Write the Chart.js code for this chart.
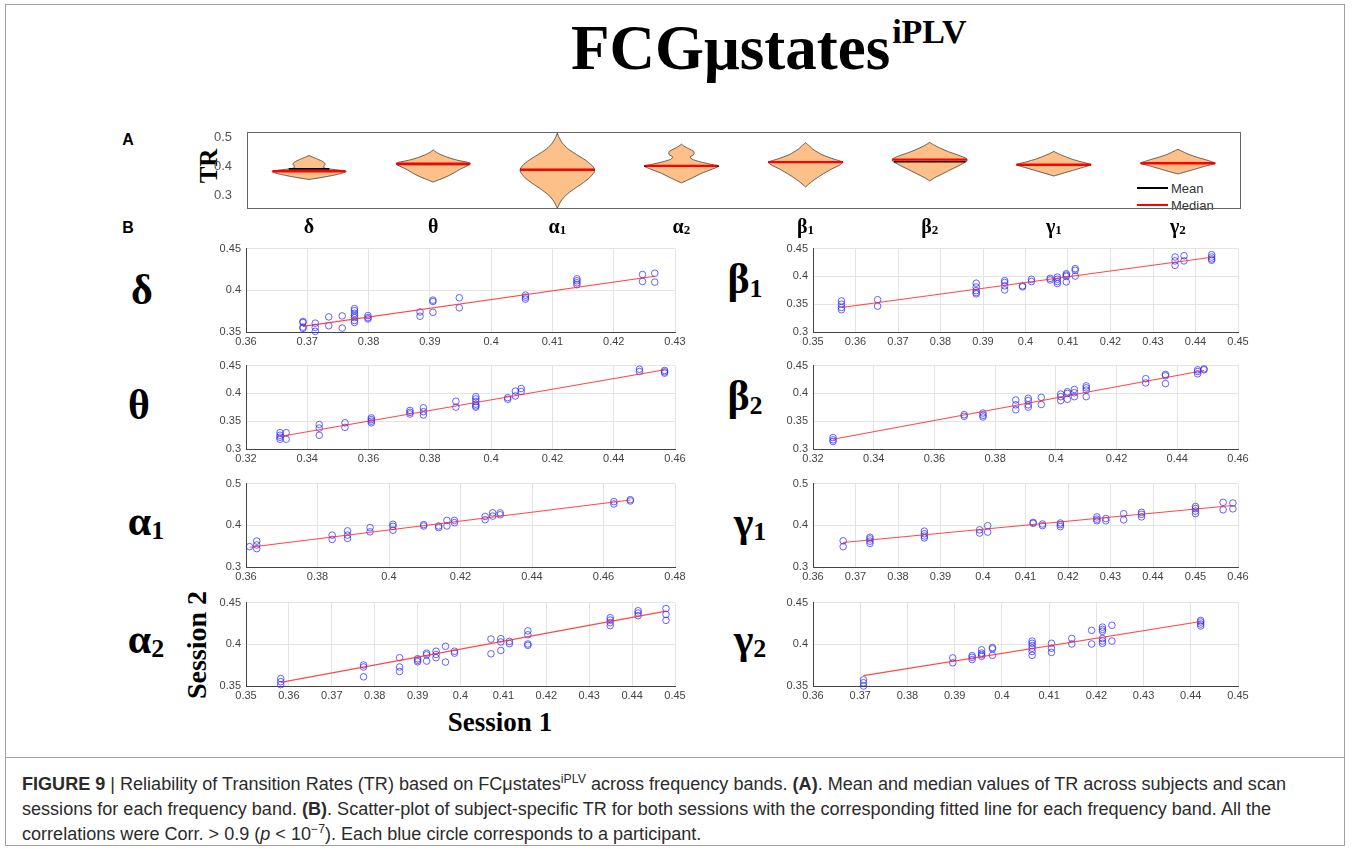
<!DOCTYPE html>
<html lang="en">
<head>
<meta charset="UTF-8">
<title>FCGμstates iPLV</title>
<script src="https://cdn.jsdelivr.net/npm/chart.js"></script>
<style>
    body { margin: 0; background: #fff; width: 1358px; height: 849px; position: relative; overflow: hidden; font-family: "Liberation Sans", Arial, sans-serif; }
    canvas { position: absolute; }
    .lbl { position: absolute; white-space: nowrap; transform: translate(-50%, -50%); line-height: 1; }
    .serif { font-family: "Liberation Serif", "Times New Roman", serif; font-weight: bold; color: #000; }
    .greek { font-size: 42px; }
    .greek sub { font-size: 0.62em; vertical-align: -0.12em; }
    .band { font-size: 20px; }
    .band sub { font-size: 0.65em; vertical-align: -0.15em; }
    #frame { position: absolute; left: 5px; top: 4px; width: 1340px; height: 842px; border: 1px solid #a0a0a0; box-sizing: border-box; }
    #capline { position: absolute; left: 5px; top: 757px; width: 1340px; height: 1px; background: #a0a0a0; }
    .cap { position: absolute; left: 22px; white-space: nowrap; font-size: 17.5px; line-height: 20px; color: #2b2b2b; transform-origin: 0 50%;
           font-family: "Liberation Sans Narrow", "Liberation Sans", Arial, sans-serif; }
    .cap sup { font-size: 0.68em; line-height: 0; }
    .leg { position: absolute; font-size: 13px; color: #333; line-height: 1; }
    .legline { position: absolute; height: 2px; width: 31px; }
</style>
</head>
<body>
<div id="frame"></div>
<div id="capline"></div>

<div class="serif" style="position:absolute; left:571px; top:17px; font-size:63px; line-height:1; white-space:nowrap;">FCGμstates<span style="font-size:34px; position:relative; top:-26px; margin-left:2px;">iPLV</span></div>

<div class="lbl" style="left:128px; top:140px; font-weight:bold; font-size:16px;">A</div>
<div class="lbl" style="left:128px; top:228px; font-weight:bold; font-size:16px;">B</div>
<div class="lbl serif" style="left:208px; top:166px; font-size:25px; transform:translate(-50%,-50%) rotate(-90deg);">TR</div>

<div class="lbl serif" style="left:197px; top:645px; font-size:28px; transform:translate(-50%,-50%) rotate(-90deg);">Session 2</div>
<div class="lbl serif" style="left:500px; top:722px; font-size:27px;">Session 1</div>

<div class="legline" style="left:1137px; top:187px; background:#000;"></div>
<div class="leg" style="left:1171px; top:182px;">Mean</div>
<div class="legline" style="left:1137px; top:204px; background:#ff0000;"></div>
<div class="leg" style="left:1171px; top:199px;">Median</div>

<div class="cap" id="cap1" style="top:774px;"><b>FIGURE 9</b> | Reliability of Transition Rates (TR) based on FCμstates<sup>iPLV</sup> across frequency bands. <b>(A)</b>. Mean and median values of TR across subjects and scan</div>
<div class="cap" id="cap2" style="top:799px;">sessions for each frequency band. <b>(B)</b>. Scatter-plot of subject-specific TR for both sessions with the corresponding fitted line for each frequency band. All the</div>
<div class="cap" id="cap3" style="top:824px;">correlations were Corr. &gt; 0.9 (<i>p</i> &lt; 10<sup>−7</sup>). Each blue circle corresponds to a participant.</div>

<script>
// ---- panel A: violin outlines, [TR value, half width]
const bandNames = ['δ', 'θ', 'α', 'α', 'β', 'β', 'γ', 'γ'];
const bandSubs = ['', '', '1', '2', '1', '2', '1', '2'];
const trMean = [0.3905, 0.406, 0.388, 0.400, 0.414, 0.415, 0.405, 0.410];
const trMedian = [0.3825, 0.4085, 0.387, 0.401, 0.414, 0.4225, 0.405, 0.410];
const trTicks = [0.3, 0.4, 0.5];

const deltaViolin = [[0.354, 0], [0.360, 0.09], [0.368, 0.19], [0.376, 0.27], [0.382, 0.30], [0.386, 0.25], [0.390, 0.17], [0.394, 0.12], [0.400, 0.12], [0.408, 0.13], [0.416, 0.11], [0.424, 0.07], [0.431, 0.03], [0.437, 0]];
const thetaViolin = [[0.345, 0], [0.352, 0.04], [0.362, 0.10], [0.375, 0.16], [0.390, 0.22], [0.400, 0.27], [0.408, 0.30], [0.413, 0.28], [0.420, 0.20], [0.430, 0.12], [0.440, 0.06], [0.448, 0.025], [0.456, 0]];
const alpha1Violin = [[0.255, 0], [0.280, 0.03], [0.300, 0.07], [0.320, 0.13], [0.340, 0.20], [0.360, 0.26], [0.378, 0.295], [0.388, 0.30], [0.400, 0.285], [0.420, 0.23], [0.440, 0.155], [0.460, 0.085], [0.480, 0.04], [0.500, 0.013], [0.514, 0]];
const alpha2Violin = [[0.342, 0], [0.350, 0.04], [0.360, 0.09], [0.375, 0.16], [0.390, 0.25], [0.400, 0.30], [0.406, 0.24], [0.415, 0.15], [0.424, 0.085], [0.432, 0.07], [0.440, 0.10], [0.450, 0.10], [0.460, 0.06], [0.469, 0.02], [0.476, 0]];
const beta1Violin = [[0.328, 0], [0.336, 0.02], [0.350, 0.06], [0.370, 0.13], [0.390, 0.21], [0.405, 0.28], [0.414, 0.30], [0.424, 0.23], [0.440, 0.13], [0.458, 0.06], [0.470, 0.03], [0.481, 0]];
const beta2Violin = [[0.349, 0], [0.360, 0.04], [0.375, 0.11], [0.390, 0.18], [0.405, 0.25], [0.418, 0.30], [0.425, 0.30], [0.435, 0.25], [0.450, 0.15], [0.465, 0.07], [0.474, 0.03], [0.482, 0]];
const gamma1Violin = [[0.366, 0], [0.375, 0.07], [0.385, 0.15], [0.395, 0.23], [0.405, 0.30], [0.415, 0.22], [0.425, 0.14], [0.435, 0.08], [0.444, 0.03], [0.451, 0]];
const gamma2Violin = [[0.373, 0], [0.380, 0.06], [0.390, 0.14], [0.400, 0.22], [0.410, 0.30], [0.420, 0.24], [0.430, 0.16], [0.440, 0.09], [0.450, 0.04], [0.458, 0]];
const violins = [deltaViolin, thetaViolin, alpha1Violin, alpha2Violin, beta1Violin, beta2Violin, gamma1Violin, gamma2Violin];

// ---- panel B: each row is [session 1 TR, session 2 TR, session 2 TR, ...]
const deltaPts = [
    [0.3693, 0.3626, 0.3614, 0.3559, 0.3543], [0.3713, 0.3606, 0.3555, 0.3508], [0.3735, 0.3681, 0.3575],
    [0.3757, 0.3693, 0.3547], [0.3777, 0.3780, 0.3756, 0.3724, 0.3697, 0.3673, 0.3638, 0.3614],
    [0.3799, 0.3697, 0.3673, 0.3657], [0.3884, 0.3740, 0.3689], [0.3905, 0.3882, 0.3866, 0.3736],
    [0.3948, 0.3910, 0.3791], [0.4056, 0.3941, 0.3917, 0.3894], [0.4140, 0.4138, 0.4114, 0.4090, 0.4067],
    [0.4247, 0.4189, 0.4106], [0.4267, 0.4205, 0.4098]];
const thetaPts = [
    [0.3311, 0.3294, 0.3247, 0.3212, 0.3176], [0.3331, 0.3294, 0.3176], [0.3439, 0.3441, 0.3376, 0.3247],
    [0.3523, 0.3471, 0.3388], [0.3609, 0.3559, 0.3529, 0.3500, 0.3471], [0.3735, 0.3694, 0.3659, 0.3629],
    [0.3779, 0.3741, 0.3671, 0.3612], [0.3885, 0.3859, 0.3753], [0.3950, 0.3941, 0.3900, 0.3853, 0.3806, 0.3776, 0.3753],
    [0.4054, 0.3924, 0.3894], [0.4079, 0.4041, 0.3953], [0.4098, 0.4088, 0.4035], [0.4484, 0.4435, 0.4394],
    [0.4566, 0.4412, 0.4388, 0.4365]];
const alpha1Pts = [
    [0.3610, 0.3488], [0.3630, 0.3622, 0.3528, 0.3441], [0.3841, 0.3764, 0.3661], [0.3884, 0.3866, 0.3764, 0.3685],
    [0.3947, 0.3945, 0.3843], [0.4011, 0.4024, 0.3976, 0.3882], [0.4097, 0.4016, 0.3984], [0.4139, 0.3984, 0.3945],
    [0.4162, 0.4118, 0.3984], [0.4183, 0.4118, 0.4063], [0.4269, 0.4213, 0.4134], [0.4290, 0.4299, 0.4220],
    [0.4311, 0.4299, 0.4252], [0.4629, 0.4567, 0.4512], [0.4675, 0.4614, 0.4583]];
const alpha2Pts = [
    [0.3581, 0.3590, 0.3551, 0.3516], [0.3774, 0.3752, 0.3728, 0.3610], [0.3858, 0.3839, 0.3728, 0.3673],
    [0.3900, 0.3827, 0.3807, 0.3791], [0.3921, 0.3894, 0.3874, 0.3799], [0.3943, 0.3917, 0.3878, 0.3839],
    [0.3965, 0.3976, 0.3787], [0.3986, 0.3917, 0.3894], [0.4071, 0.4063, 0.3886], [0.4094, 0.4067, 0.4028, 0.3925],
    [0.4114, 0.4035, 0.4008], [0.4157, 0.4161, 0.4114, 0.4004, 0.3988], [0.4349, 0.4319, 0.4291, 0.4260, 0.4224],
    [0.4414, 0.4402, 0.4374, 0.4343], [0.4479, 0.4429, 0.4358, 0.4287]];
const beta1Pts = [
    [0.3567, 0.3558, 0.3500, 0.3442, 0.3401], [0.3652, 0.3581, 0.3465], [0.3884, 0.3878, 0.3808, 0.3744, 0.3709, 0.3686],
    [0.3951, 0.3924, 0.3890, 0.3831, 0.3756], [0.3993, 0.3830, 0.3814], [0.4014, 0.3948, 0.3907], [0.4058, 0.3965, 0.3936],
    [0.4075, 0.3988, 0.3948, 0.3907, 0.3872], [0.4096, 0.4047, 0.4023, 0.4000, 0.3901], [0.4117, 0.4140, 0.4110, 0.4006],
    [0.4352, 0.4349, 0.4279, 0.4198], [0.4373, 0.4372, 0.4279], [0.4438, 0.4390, 0.4349, 0.4314, 0.4291]];
const beta2Pts = [
    [0.3266, 0.3206, 0.3165, 0.3135], [0.3698, 0.3618, 0.3588], [0.3760, 0.3647, 0.3606, 0.3576],
    [0.3868, 0.3882, 0.3794, 0.3706], [0.3909, 0.3912, 0.3871, 0.3794, 0.3753], [0.3952, 0.3929, 0.3800],
    [0.4016, 0.3988, 0.3941, 0.3871], [0.4038, 0.4029, 0.4000, 0.3894], [0.4061, 0.4071, 0.4012, 0.3941],
    [0.4100, 0.4135, 0.4100, 0.4059, 0.3941], [0.4296, 0.4265, 0.4188], [0.4361, 0.4341, 0.4318, 0.4176],
    [0.4467, 0.4424, 0.4394, 0.4353], [0.4488, 0.4441, 0.4424]];
const gamma1Pts = [
    [0.3671, 0.3628, 0.3488], [0.3734, 0.3713, 0.3674, 0.3620, 0.3566], [0.3862, 0.3860, 0.3798, 0.3744, 0.3698],
    [0.3992, 0.3891, 0.3814], [0.4011, 0.3992, 0.3837], [0.4118, 0.4070, 0.4047], [0.4140, 0.4031, 0.3992],
    [0.4182, 0.4054, 0.4016, 0.3969], [0.4268, 0.4202, 0.4147, 0.4109], [0.4289, 0.4163, 0.4109], [0.4331, 0.4279, 0.4132],
    [0.4373, 0.4310, 0.4264, 0.4202], [0.4500, 0.4450, 0.4403, 0.4341, 0.4279], [0.4565, 0.4550, 0.4372], [0.4588, 0.4535, 0.4395]];
const gamma2Pts = [
    [0.3707, 0.3574, 0.3539, 0.3500], [0.3896, 0.3837, 0.3778], [0.3937, 0.3864, 0.3844, 0.3817],
    [0.3957, 0.3934, 0.3895, 0.3876, 0.3856], [0.3980, 0.3961, 0.3946, 0.3868],
    [0.4064, 0.4039, 0.4012, 0.3984, 0.3953, 0.3914, 0.3868], [0.4105, 0.4012, 0.3953, 0.3903], [0.4148, 0.4070, 0.4004],
    [0.4190, 0.4167, 0.4004], [0.4213, 0.4206, 0.4179, 0.4156, 0.4070, 0.4039, 0.4012], [0.4233, 0.4228, 0.4039],
    [0.4421, 0.4286, 0.4267, 0.4243, 0.4220]];

// fitted line end points [session 1, session 2]
const deltaFit = [[0.3693, 0.3567], [0.4267, 0.4169]];
const thetaFit = [[0.3311, 0.3224], [0.4566, 0.4424]];
const alpha1Fit = [[0.3610, 0.3472], [0.4675, 0.4606]];
const alpha2Fit = [[0.3581, 0.3543], [0.4479, 0.4398]];
const beta1Fit = [[0.3567, 0.3442], [0.4438, 0.4343]];
const beta2Fit = [[0.3266, 0.3176], [0.4488, 0.4412]];
const gamma1Fit = [[0.3671, 0.3589], [0.4588, 0.4473]];
const gamma2Fit = [[0.3707, 0.3624], [0.4421, 0.4274]];

// axis limits [min, max, step]
const xLims = [[0.36, 0.43, 0.01], [0.32, 0.46, 0.02], [0.36, 0.48, 0.02], [0.35, 0.45, 0.01],
               [0.35, 0.45, 0.01], [0.32, 0.46, 0.02], [0.36, 0.46, 0.01], [0.36, 0.45, 0.01]];
const yLims = [[0.35, 0.45, 0.05], [0.30, 0.45, 0.05], [0.30, 0.50, 0.10], [0.35, 0.45, 0.05],
               [0.30, 0.45, 0.05], [0.30, 0.45, 0.05], [0.30, 0.50, 0.10], [0.35, 0.45, 0.05]];
const allPts = [deltaPts, thetaPts, alpha1Pts, alpha2Pts, beta1Pts, beta2Pts, gamma1Pts, gamma2Pts];
const allFits = [deltaFit, thetaFit, alpha1Fit, alpha2Fit, beta1Fit, beta2Fit, gamma1Fit, gamma2Fit];

Chart.defaults.font.family = '"Liberation Sans", Arial, sans-serif';
const fmt = v => String(parseFloat(v.toFixed(3)));

function addLabel(html, x, y, cls) {
    const d = document.createElement('div');
    d.className = 'lbl serif ' + cls;
    d.style.left = x + 'px';
    d.style.top = y + 'px';
    d.innerHTML = html;
    document.body.appendChild(d);
}

function makeCanvas(left, top, w, h) {
    const c = document.createElement('canvas');
    c.width = w; c.height = h;
    c.style.left = left + 'px'; c.style.top = top + 'px';
    document.body.appendChild(c);
    return c;
}

// ---- panel A
function halfWidthAt(prof, v) {
    for (let k = 1; k < prof.length; k++) {
        if (v <= prof[k][0]) {
            const [y0, w0] = prof[k - 1], [y1, w1] = prof[k];
            return w0 + (w1 - w0) * (v - y0) / (y1 - y0);
        }
    }
    return 0;
}

const aBox = {x: 247, y: 128, w: 993, h: 85};
const aPad = {l: 47, t: 10, r: 10, b: 10};
const aCanvas = makeCanvas(aBox.x - aPad.l, aBox.y - aPad.t, aPad.l + aBox.w + aPad.r, aPad.t + aBox.h + aPad.b);
const aSets = [];
const ids = {xAxisID: 'x', yAxisID: 'y'};
violins.forEach((prof, i) => {
    const right = prof.map(([y, w]) => ({x: i + w, y}));
    const left = prof.slice().reverse().map(([y, w]) => ({x: i - w, y}));
    aSets.push(Object.assign({data: right.concat(left), showLine: true, fill: 'shape', backgroundColor: '#fdc088',
        borderColor: '#404040', borderWidth: 0.8, pointRadius: 0, tension: 0.2, order: 3}, ids));
    const wm = halfWidthAt(prof, trMean[i]);
    aSets.push(Object.assign({data: [{x: i - wm, y: trMean[i]}, {x: i + wm, y: trMean[i]}], showLine: true,
        borderColor: '#000', borderWidth: 1.6, pointRadius: 0, order: 2}, ids));
    const wd = halfWidthAt(prof, trMedian[i]);
    aSets.push(Object.assign({data: [{x: i - wd, y: trMedian[i]}, {x: i + wd, y: trMedian[i]}], showLine: true,
        borderColor: '#ff0000', borderWidth: 2.4, pointRadius: 0, order: 1}, ids));
});
const boxAxis = {display: true, ticks: {display: false}, grid: {display: false}, border: {color: '#666', width: 1}};
const violinChart = new Chart(aCanvas, {
    type: 'scatter',
    data: {datasets: aSets},
    options: {
        responsive: false, animation: false, events: [],
        layout: {padding: {left: 0, top: aPad.t, right: aPad.r, bottom: aPad.b}},
        plugins: {legend: {display: false}, tooltip: {enabled: false}},
        scales: {
            x: Object.assign({}, boxAxis, {type: 'linear', min: -0.5, max: 7.5, bounds: 'data', afterFit: s => { s.height = 0; }}),
            y: {type: 'linear', min: 0.255, max: 0.515, bounds: 'data', afterFit: s => { s.width = aPad.l; },
                afterBuildTicks: s => { s.ticks = trTicks.map(v => ({value: v})); },
                ticks: {callback: fmt, color: '#555', font: {size: 13}, padding: 7},
                grid: {display: false}, border: {color: '#666', width: 1}},
            x2: Object.assign({}, boxAxis, {type: 'linear', position: 'top', afterFit: s => { s.height = 0; }}),
            y2: Object.assign({}, boxAxis, {type: 'linear', position: 'right', afterFit: s => { s.width = 0; }})
        }
    }
});
bandNames.forEach((n, i) => {
    const px = aBox.x - aPad.l + violinChart.scales.x.getPixelForValue(i);
    addLabel(n + (bandSubs[i] ? '<sub>' + bandSubs[i] + '</sub>' : ''), px, 226, 'band');
});

// ---- panel B
const bBoxes = [
    {x: 246, y: 247}, {x: 246, y: 364}, {x: 246, y: 482}, {x: 246, y: 601},
    {x: 813, y: 247}, {x: 813, y: 364}, {x: 813, y: 482}, {x: 813, y: 601}];
const bWidths = [429, 429, 429, 429, 425, 425, 425, 425];
const bPad = {l: 42, t: 10, r: 18, b: 18};

allPts.forEach((rows, k) => {
    const box = bBoxes[k], w = bWidths[k], h = 85;
    const c = makeCanvas(box.x - bPad.l, box.y - bPad.t, bPad.l + w + bPad.r, bPad.t + h + bPad.b);
    const pts = [];
    rows.forEach(row => row.slice(1).forEach(y => pts.push({x: row[0], y})));
    const xl = xLims[k], yl = yLims[k];
    new Chart(c, {
        type: 'scatter',
        data: {datasets: [
            {data: allFits[k].map(p => ({x: p[0], y: p[1]})), showLine: true, borderColor: 'rgba(255,40,40,0.85)',
             borderWidth: 1.1, pointRadius: 0, order: 1},
            {data: pts, pointRadius: 3.3, pointHoverRadius: 3.3, pointBorderWidth: 1,
             pointBorderColor: 'rgba(35,35,255,0.7)', pointBackgroundColor: 'rgba(0,0,0,0)', clip: 6, order: 2}
        ]},
        options: {
            responsive: false, animation: false, events: [],
            layout: {padding: {left: 0, top: bPad.t, right: bPad.r, bottom: 0}},
            plugins: {legend: {display: false}, tooltip: {enabled: false}},
            scales: {
                x: {type: 'linear', min: xl[0], max: xl[1], bounds: 'data', afterFit: s => { s.height = bPad.b; },
                    ticks: {stepSize: xl[2], callback: fmt, color: '#444', font: {size: 11}, padding: 3, maxRotation: 0, autoSkip: false},
                    grid: {color: '#e4e4e4', drawTicks: false}, border: {color: '#444', width: 1}},
                y: {type: 'linear', min: yl[0], max: yl[1], bounds: 'data', afterFit: s => { s.width = bPad.l; },
                    ticks: {stepSize: yl[2], callback: fmt, color: '#444', font: {size: 11}, padding: 5},
                    grid: {color: '#e4e4e4', drawTicks: false}, border: {color: '#444', width: 1}}
            }
        }
    });
});

// band names beside the scatter plots
const sidePos = [[142, 290], [139, 405], [146, 522], [146, 640], [745, 280], [745, 397], [750, 523], [750, 640]];
sidePos.forEach(([x, y], i) => addLabel(bandNames[i] + (bandSubs[i] ? '<sub>' + bandSubs[i] + '</sub>' : ''), x, y, 'greek'));

// fit the caption to the width of the printed lines
const cap1 = document.getElementById('cap1');
const capScale = 1264 / cap1.getBoundingClientRect().width;
['cap1', 'cap2', 'cap3'].forEach(id => { document.getElementById(id).style.transform = 'scaleX(' + capScale + ')'; });
</script>
</body>
</html>
